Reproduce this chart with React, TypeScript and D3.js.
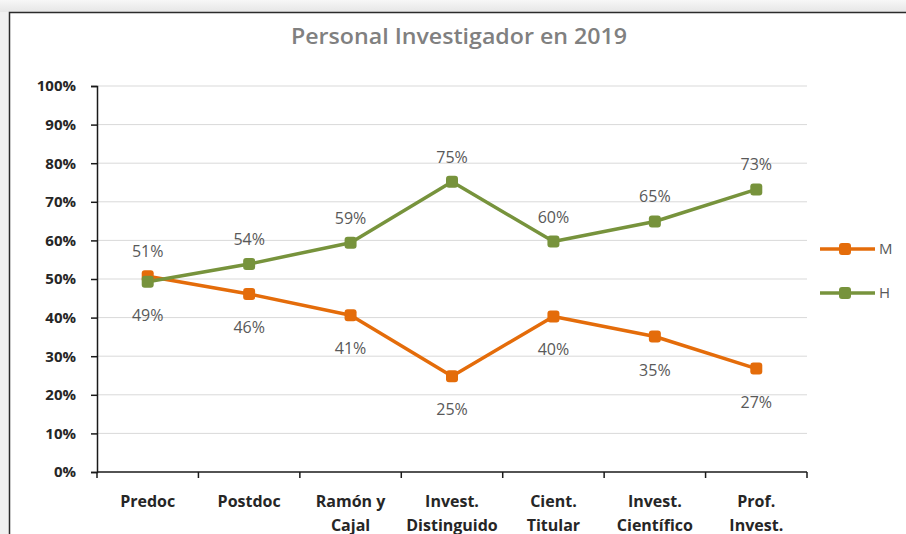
import { useEffect, useRef } from 'react';
import * as d3 from 'd3';

const categories = [
  ['Predoc'],
  ['Postdoc'],
  ['Ramón y', 'Cajal'],
  ['Invest.', 'Distinguido'],
  ['Cient.', 'Titular'],
  ['Invest.', 'Científico'],
  ['Prof.', 'Invest.'],
];
const mujeres = [50.7, 46.1, 40.6, 24.8, 40.3, 35.1, 26.8];
const hombres = [49.3, 53.9, 59.4, 75.2, 59.7, 64.9, 73.2];
const yTicks = [0, 10, 20, 30, 40, 50, 60, 70, 80, 90, 100];

const series = [
  { name: 'M', values: mujeres, color: '#E46C0A', labelAbove: [true, false, false, false, false, false, false] },
  { name: 'H', values: hombres, color: '#77933C', labelAbove: [false, true, true, true, true, true, true] },
];

export default function App() {
  const svgRef = useRef<SVGSVGElement>(null);

  useEffect(() => {
    const svg = d3.select(svgRef.current);
    svg.selectAll('*').remove();

    const W = 906, H = 534;
    const font = 'Open Sans, sans-serif';

    // page background + chart area
    const defs = svg.append('defs');
    const grad = defs.append('linearGradient').attr('id', 'topShade').attr('x1', 0).attr('x2', 0).attr('y1', 0).attr('y2', 1);
    grad.append('stop').attr('offset', '0%').attr('stop-color', '#f7f7f7');
    grad.append('stop').attr('offset', '100%').attr('stop-color', '#e6e6e6');
    svg.append('rect').attr('width', W).attr('height', H).attr('fill', '#f0f0f0');
    svg.append('rect').attr('width', W).attr('height', 12).attr('fill', 'url(#topShade)');
    svg.append('rect').attr('x', 9).attr('y', 12).attr('width', W).attr('height', H).attr('fill', '#fff');
    svg.append('path').attr('d', `M9.5,${H} L9.5,12.5 L${W},12.5`)
      .attr('fill', 'none').attr('stroke', '#2b2b2b').attr('stroke-width', 1.5);

    const left = 97, right = 807, top = 86, bottom = 472;
    const x = d3.scaleBand<number>().domain(d3.range(categories.length)).range([left, right]);
    const y = d3.scaleLinear().domain([0, 100]).range([bottom, top]);
    const cx = (i: number) => (x(i) as number) + x.bandwidth() / 2;

    // title
    svg.append('text').attr('x', 459).attr('y', 44).attr('text-anchor', 'middle')
      .attr('font-family', font).attr('font-size', 21).attr('font-weight', 600)
      .attr('textLength', 336).attr('lengthAdjust', 'spacingAndGlyphs')
      .attr('fill', '#808080').text('Personal Investigador en 2019');

    // gridlines
    svg.append('g').selectAll('line').data(yTicks.slice(1)).join('line')
      .attr('x1', left).attr('x2', right)
      .attr('y1', d => y(d)).attr('y2', d => y(d))
      .attr('stroke', '#d9d9d9').attr('stroke-width', 1);

    // y axis
    const yAxis = svg.append('g').attr('transform', `translate(${left},0)`)
      .call(d3.axisLeft(y).tickValues(yTicks).tickSize(6).tickFormat(d => `${d}%`));
    yAxis.select('.domain').attr('stroke', '#1a1a1a').attr('stroke-width', 1.5);
    yAxis.selectAll('line').attr('stroke', '#1a1a1a').attr('stroke-width', 1.5);
    yAxis.selectAll('text').attr('x', -21).attr('font-family', font).attr('font-size', 15)
      .attr('font-weight', 700).attr('fill', '#262626');

    // x axis
    const xAxis = svg.append('g').attr('transform', `translate(0,${bottom})`);
    xAxis.append('line').attr('x1', left).attr('x2', right).attr('stroke', '#1a1a1a').attr('stroke-width', 1.5);
    xAxis.selectAll('line.tick').data(d3.range(categories.length + 1)).join('line')
      .attr('class', 'tick')
      .attr('x1', d => left + d * x.bandwidth()).attr('x2', d => left + d * x.bandwidth())
      .attr('y1', 0).attr('y2', 6).attr('stroke', '#1a1a1a').attr('stroke-width', 1.5);
    categories.forEach((lines, i) => {
      const t = xAxis.append('text').attr('text-anchor', 'middle')
        .attr('font-family', font).attr('font-size', 16).attr('font-weight', 700).attr('fill', '#262626');
      lines.forEach((ln, k) => {
        t.append('tspan').attr('x', cx(i)).attr('y', 35 + k * 24).text(ln);
      });
    });

    // series
    const line = d3.line<number>().x((_, i) => cx(i)).y(d => y(d));
    series.forEach(s => {
      svg.append('path').datum(s.values).attr('d', line)
        .attr('fill', 'none').attr('stroke', s.color).attr('stroke-width', 3.5).attr('stroke-linejoin', 'round');
    });
    series.forEach(s => {
      svg.append('g').selectAll('rect').data(s.values).join('rect')
        .attr('x', (_, i) => cx(i) - 6).attr('y', d => y(d) - 6)
        .attr('width', 12).attr('height', 12).attr('rx', 3)
        .attr('fill', s.color);
    });
    series.forEach(s => {
      svg.append('g').selectAll('text').data(s.values).join('text')
        .attr('x', (_, i) => cx(i))
        .attr('y', (d, i) => y(d) + (s.labelAbove[i] ? -19 : 39))
        .attr('text-anchor', 'middle').attr('font-family', font).attr('font-size', 16)
        .attr('fill', '#595959')
        .text(d => `${Math.round(d)}%`);
    });

    // legend
    series.forEach((s, k) => {
      const ly = 249 + k * 44;
      svg.append('line').attr('x1', 820).attr('x2', 875).attr('y1', ly).attr('y2', ly)
        .attr('stroke', s.color).attr('stroke-width', 3.5);
      svg.append('rect').attr('x', 839).attr('y', ly - 6).attr('width', 12).attr('height', 12).attr('rx', 3)
        .attr('fill', s.color);
      svg.append('text').attr('x', 879).attr('y', ly + 5).attr('font-family', font).attr('font-size', 15)
        .attr('fill', '#595959').text(s.name);
    });
  }, []);

  return (
    <div style={{ position: 'fixed', left: 0, top: 0 }}>
      <svg ref={svgRef} width={906} height={534} style={{ display: 'block' }} />
    </div>
  );
}
